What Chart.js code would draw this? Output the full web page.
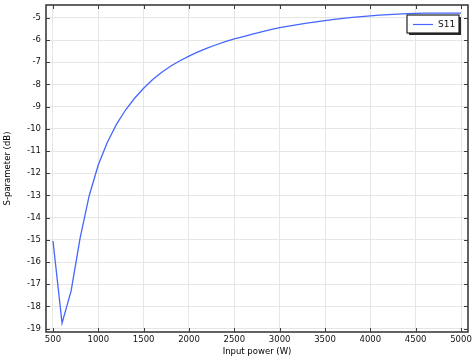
<!DOCTYPE html>
<html><head><meta charset="utf-8">
<script src="https://cdn.jsdelivr.net/npm/chart.js@4"></script>
<style>html,body{margin:0;padding:0;background:#fff}#wrap{width:476px;height:357px}</style>
</head><body><div id="wrap"><canvas id="c" width="476" height="357"></canvas></div>
<script>
const inputPower = [500,600,700,800,900,1000,1100,1200,1300,1400,1500,1600,1700,1800,1900,2000,2100,2200,2300,2400,2500,2600,2700,2800,2900,3000,3100,3200,3300,3400,3500,3600,3700,3800,3900,4000,4100,4200,4300,4400,4500,4600,4700,4800,4900,5000];
const s11 = [-15.05,-18.75,-17.3,-14.9,-13.0,-11.62,-10.6,-9.8,-9.15,-8.62,-8.17,-7.78,-7.45,-7.17,-6.93,-6.72,-6.53,-6.36,-6.21,-6.07,-5.95,-5.84,-5.73,-5.63,-5.53,-5.44,-5.37,-5.30,-5.24,-5.18,-5.12,-5.07,-5.02,-4.98,-4.94,-4.91,-4.88,-4.85,-4.83,-4.81,-4.80,-4.79,-4.79,-4.79,-4.79,-4.79];
const xTicks = [500,1000,1500,2000,2500,3000,3500,4000,4500,5000];
const yTicks = [-19,-18,-17,-16,-15,-14,-13,-12,-11,-10,-9,-8,-7,-6,-5];
const seriesName = 'S11';
const xTitle = 'Input power (W)';
const yTitle = 'S-parameter (dB)';

const FONT = 'DejaVu Sans';
const frame = {
  id: 'frame',
  afterDraw(chart) {
    const ctx = chart.ctx, a = chart.chartArea;
    const xs = chart.scales.x, ys = chart.scales.y;
    ctx.save();
    ctx.strokeStyle = '#3c3c3c';
    ctx.lineWidth = 1;
    ctx.beginPath();
    xTicks.forEach(v => {
      const p = Math.round(xs.getPixelForValue(v)) + 0.5;
      ctx.moveTo(p, a.bottom); ctx.lineTo(p, a.bottom - 4);
      ctx.moveTo(p, a.top); ctx.lineTo(p, a.top + 4);
    });
    yTicks.forEach(v => {
      const p = Math.round(ys.getPixelForValue(v)) + 0.5;
      ctx.moveTo(a.left, p); ctx.lineTo(a.left + 4, p);
      ctx.moveTo(a.right, p); ctx.lineTo(a.right - 4, p);
    });
    ctx.stroke();
    ctx.lineWidth = 1.6;
    ctx.strokeRect(a.left, a.top, a.right - a.left, a.bottom - a.top);
    // legend
    const bx = 407, by = 15, bw = 52, bh = 18;
    ctx.fillStyle = '#2a2a2a';
    ctx.fillRect(bx + 2, by + 2, bw, bh);
    ctx.fillStyle = '#fff';
    ctx.fillRect(bx, by, bw, bh);
    ctx.lineWidth = 1.2;
    ctx.strokeStyle = '#222';
    ctx.strokeRect(bx, by, bw, bh);
    ctx.strokeStyle = '#4466ff';
    ctx.lineWidth = 1.2;
    ctx.beginPath(); ctx.moveTo(413, 24.5); ctx.lineTo(433, 24.5); ctx.stroke();
    ctx.fillStyle = '#111';
    ctx.font = '9px "' + FONT + '"';
    ctx.textBaseline = 'middle';
    ctx.fillText(seriesName, 438, 24.5);
    ctx.restore();
  }
};

new Chart(document.getElementById('c'), {
  type: 'line',
  data: {
    datasets: [{
      label: seriesName,
      data: inputPower.map((x, i) => ({x, y: s11[i]})),
      borderColor: '#4466ff',
      borderWidth: 1.3,
      pointRadius: 0,
      tension: 0,
      fill: false
    }]
  },
  options: {
    responsive: false,
    animation: false,
    devicePixelRatio: 1,
    layout: { padding: { left: 0, right: 8, top: 5, bottom: 0 } },
    plugins: { legend: { display: false }, tooltip: { enabled: false } },
    scales: {
      x: {
        type: 'linear', min: 423, max: 5077,
        afterBuildTicks: s => { s.ticks = xTicks.map(v => ({value: v})); },
        afterFit: s => { s.height = 25; s.paddingLeft = 0; s.paddingRight = 0; },
        grid: { color: '#e6e6e6', drawTicks: false, lineWidth: 1 },
        border: { display: false },
        ticks: { padding: 3, maxRotation: 0, autoSkip: false, color: '#111', font: { family: FONT, size: 8.5 }, callback: v => String(v) },
        title: { display: true, text: xTitle, color: '#000', padding: { top: 0, bottom: 0 }, font: { family: FONT, size: 8.5 } }
      },
      y: {
        type: 'linear', min: -19.15, max: -4.42,
        afterBuildTicks: s => { s.ticks = yTicks.map(v => ({value: v})); },
        afterFit: s => { s.width = 46; s.paddingTop = 0; s.paddingBottom = 0; },
        grid: { color: '#e6e6e6', drawTicks: false, lineWidth: 1 },
        border: { display: false },
        ticks: { padding: 5, autoSkip: false, color: '#111', font: { family: FONT, size: 8.5 }, callback: v => String(v) },
        title: { display: true, text: yTitle, color: '#000', padding: { top: 3, bottom: 0 }, font: { family: FONT, size: 8.5 } }
      }
    }
  },
  plugins: [frame]
});
</script></body></html>
